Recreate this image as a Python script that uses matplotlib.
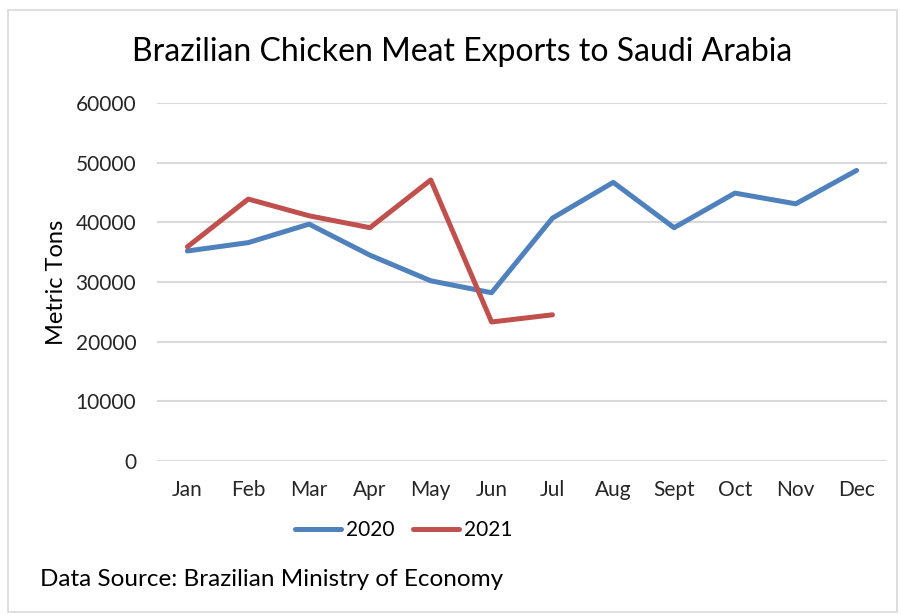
import matplotlib.pyplot as plt
import numpy as np
from matplotlib.patches import Rectangle

months = ['Jan', 'Feb', 'Mar', 'Apr', 'May', 'Jun', 'Jul', 'Aug', 'Sept', 'Oct', 'Nov', 'Dec']
exports_2020 = [35200, 36600, 39700, 34500, 30200, 28200, 40700, 46700, 39100, 44900, 43100, 48700]
exports_2021 = [35900, 43900, 41100, 39100, 47100, 23300, 24500]

plt.rcParams['font.family'] = ['Lato', 'DejaVu Sans']

fig = plt.figure(figsize=(9.01, 6.15), dpi=100)
ax = fig.add_axes([157 / 901, 1 - 461 / 615, 730 / 901, 358 / 615])

x = np.arange(len(months))
ax.plot(x, exports_2020, color='#4F81BD', lw=3.6, label='2020', solid_capstyle='round', solid_joinstyle='round')
ax.plot(x[:len(exports_2021)], exports_2021, color='#C0504D', lw=3.6, label='2021',
        solid_capstyle='round', solid_joinstyle='round')

ax.set_xlim(-0.5, 11.5)
ax.set_ylim(0, 60000)
ax.set_yticks(range(0, 60001, 10000))
ax.set_xticks(x)
ax.set_xticklabels(months)
ax.grid(axis='y', color='#D9D9D9', lw=1.5)
ax.set_axisbelow(True)
for s in ax.spines.values():
    s.set_visible(False)
ax.tick_params(length=0, labelsize=15, colors='#262626')
ax.tick_params(axis='x', pad=14)
ax.tick_params(axis='y', pad=15)
ax.set_ylabel('Metric Tons', fontsize=17, labelpad=6)

fig.text(462 / 901, 1 - 52 / 615, 'Brazilian Chicken Meat Exports to Saudi Arabia',
         ha='center', va='center', fontsize=23)
ax.legend(loc='center', bbox_to_anchor=(404 / 901, 1 - 530 / 615), bbox_transform=fig.transFigure,
          ncol=2, frameon=False, fontsize=15, handlelength=2.2, handletextpad=0.25, columnspacing=0.9)
fig.text(40 / 901, 1 - 580 / 615, 'Data Source: Brazilian Ministry of Economy',
         ha='left', va='center', fontsize=17.5)

fig.patches.append(Rectangle((8 / 901, 3 / 615), 889 / 901, 602 / 615, transform=fig.transFigure,
                             fill=False, edgecolor='#D9D9D9', lw=1.2))

plt.savefig('out.png', dpi=100)
